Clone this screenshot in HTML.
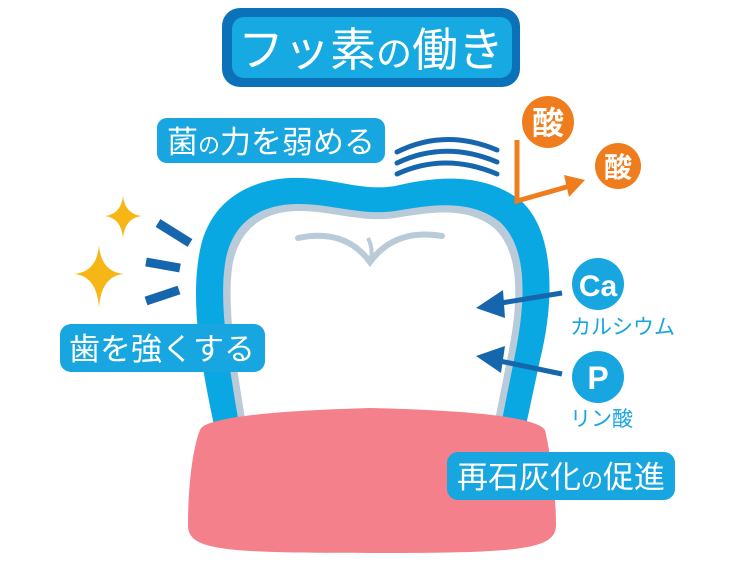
<!DOCTYPE html>
<html><head><meta charset="utf-8"><style>
html,body{margin:0;padding:0;background:#fff;}
svg{display:block;}
text{font-family:"Liberation Sans","Noto Sans CJK JP",sans-serif;}
</style></head><body>
<svg width="750" height="563" viewBox="0 0 750 563" xmlns="http://www.w3.org/2000/svg">
<rect width="750" height="563" fill="#fff"/>
<!-- title -->
<rect x="222" y="8" width="298" height="79" rx="18" fill="#0b72b9"/>
<rect x="232" y="17" width="280" height="61" rx="12" fill="#17a9e1"/>
<text x="371" y="66" font-size="46" fill="#fff" text-anchor="middle">フッ素<tspan font-size="36">の</tspan>働き</text>

<!-- tooth -->
<path d="M215 430 C200 360,190 300,200 250 C210 200,250 180,290 178 C330 176,360 192,395 186 C430 178,480 170,520 200 C555 230,555 300,540 360 L525 430 Z" fill="#0aa8e3"/>
<path d="M240 430 C228 360,218 300,226 258 C234 220,262 205,295 204 C330 203,360 216,395 211 C430 205,470 198,500 222 C528 248,526 300,515 355 L500 430 Z" fill="#b9cad8"/>
<path d="M247 430 C235 360,226 300,233 262 C241 226,266 212,296 211 C330 210,360 223,395 218 C430 212,468 206,494 228 C520 252,519 300,508 355 L493 430 Z" fill="#fff"/>
<path d="M298 238 Q345 228 370 262 Q395 228 442 236" fill="none" stroke="#b9cad8" stroke-width="6" stroke-linecap="round"/>
<path d="M368 238 Q374 250 370 262" fill="none" stroke="#b9cad8" stroke-width="4"/>

<!-- gum -->
<path d="M200 430 C205 415,300 410,370 408 C450 410,535 415,545 430 C552 460,556 500,556 525 C556 550,520 553,370 553 C220 553,188 550,188 525 C188 490,192 450,200 430 Z" fill="#f4808c"/>

<!-- vibration arcs -->
<g fill="none" stroke="#1566ad" stroke-width="5" stroke-linecap="round">
<path d="M397 152 Q445 128 497 150"/>
<path d="M397 163 Q445 140 497 162"/>
<path d="M397 174 Q445 152 497 174"/>
</g>

<!-- acid -->
<circle cx="548" cy="122" r="26" fill="#ef7d1e"/>
<text x="548" y="134" font-size="32" fill="#fff" text-anchor="middle" font-weight="bold">酸</text>
<circle cx="618" cy="166" r="23" fill="#ef7d1e"/>
<text x="618" y="177" font-size="28" fill="#fff" text-anchor="middle" font-weight="bold">酸</text>
<path d="M517 140 L517 201 L570 186" fill="none" stroke="#ef7d1e" stroke-width="5"/>
<path d="M585 180 L564 175 L569 197 Z" fill="#ef7d1e"/>

<!-- left dashes & sparkles -->
<g stroke="#1566ad" stroke-width="9">
<line x1="158" y1="223" x2="190" y2="243"/>
<line x1="146" y1="262" x2="180" y2="268"/>
<line x1="146" y1="301" x2="179" y2="290"/>
</g>
<path d="M123 196 Q125 214 142 216 Q125 218 123 238 Q121 218 105 216 Q121 214 123 196 Z" fill="#f6b716"/>
<path d="M99 245 Q101 272 124 274 Q101 276 99 308 Q97 276 74 274 Q97 272 99 245 Z" fill="#f6b716"/>

<!-- labels -->
<rect x="157" y="118" width="228" height="45" rx="10" fill="#17a6e0"/>
<text x="271" y="153" font-size="31" fill="#fff" text-anchor="middle">菌<tspan font-size="22">の</tspan>力を弱める</text>
<rect x="60" y="324" width="205" height="48" rx="11" fill="#17a6e0"/>
<text x="162" y="360" font-size="31" fill="#fff" text-anchor="middle">歯を強くする</text>
<rect x="447" y="452" width="228" height="48" rx="11" fill="#17a6e0"/>
<text x="561" y="488" font-size="31" fill="#fff" text-anchor="middle">再石灰化<tspan font-size="22">の</tspan>促進</text>

<!-- Ca / P -->
<circle cx="598" cy="284" r="26" fill="#17a6e0"/>
<text x="598" y="296" font-size="30" fill="#fff" text-anchor="middle" font-weight="bold">Ca</text>
<text x="570" y="334" font-size="21" fill="#17a6e0">カルシウム</text>
<circle cx="598" cy="377" r="26" fill="#17a6e0"/>
<text x="598" y="389" font-size="32" fill="#fff" text-anchor="middle" font-weight="bold">P</text>
<text x="570" y="426" font-size="21" fill="#17a6e0">リン酸</text>

<!-- arrows -->
<g fill="#1566ad">
<line x1="562" y1="293" x2="495" y2="304" stroke="#1566ad" stroke-width="5"/>
<path d="M476 308 L503 290 L505 318 Z"/>
<line x1="562" y1="374" x2="495" y2="360" stroke="#1566ad" stroke-width="5"/>
<path d="M476 356 L505 346 L501 373 Z"/>
</g>
</svg>
</body></html>
